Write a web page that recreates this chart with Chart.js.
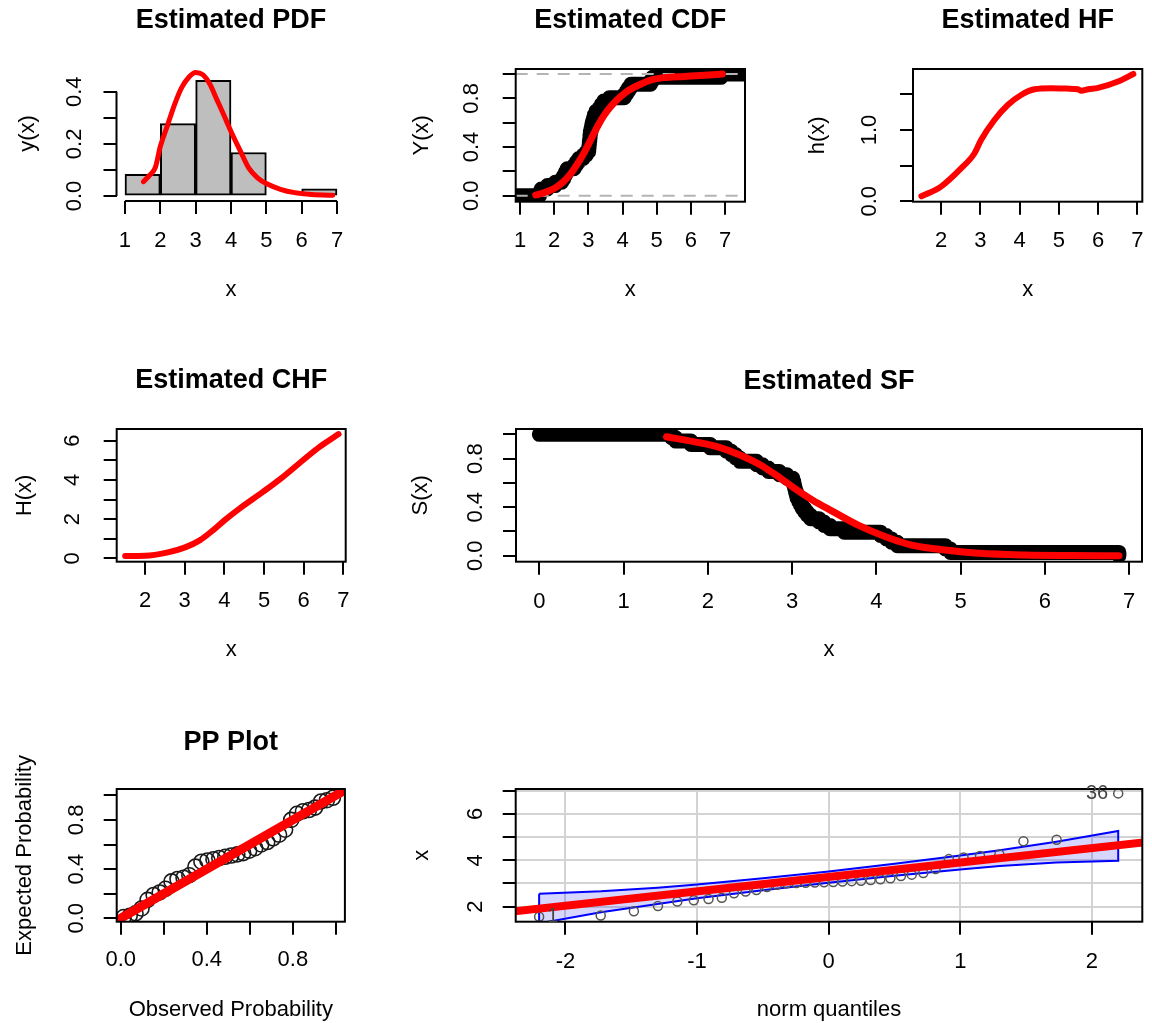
<!DOCTYPE html>
<html>
<head>
<meta charset="utf-8">
<script src="https://cdn.jsdelivr.net/npm/chart.js@4.4.1/dist/chart.umd.min.js"></script>
<style>
    html, body { margin: 0; padding: 0; background: #fff; overflow: hidden; width: 1152px; height: 1023px; }
    canvas { position: absolute; }
</style>
</head>
<body>
<script>
// sorted sample (read from the QQ / ECDF / SF panels)
const sampleX = [1.57, 1.62, 1.80, 2.03, 2.22, 2.28, 2.33, 2.38, 2.58, 2.65, 2.72, 2.85, 2.94,
    3.01, 3.02, 3.03, 3.04, 3.05, 3.06, 3.08, 3.10, 3.12, 3.15, 3.18, 3.22, 3.32, 3.38, 3.45, 3.62,
    4.05, 4.12, 4.18, 4.25, 4.82, 4.88, 6.88];

// histogram
const histBreaks = [1, 2, 3, 4, 5, 6, 7];
const histDensity = [0.083, 0.278, 0.444, 0.167, 0, 0.028];

// fitted curves (red)
const pdfX = [1.52, 1.7, 1.86, 2.0, 2.2, 2.4, 2.6, 2.8, 3.0, 3.2, 3.4, 3.6, 3.8, 4.0, 4.25, 4.5, 4.75, 5.0, 5.4, 5.8, 6.2, 6.6, 6.88];
const pdfY = [0.055, 0.08, 0.11, 0.19, 0.27, 0.35, 0.415, 0.455, 0.474, 0.466, 0.43, 0.37, 0.31, 0.248, 0.177, 0.108, 0.07, 0.048, 0.026, 0.013, 0.007, 0.004, 0.003];
const cdfX = [1.46, 1.7, 2.0, 2.25, 2.48, 2.7, 2.87, 3.0, 3.16, 3.3, 3.46, 3.65, 3.85, 4.1, 4.33, 4.6, 4.82, 5.2, 5.8, 6.4, 6.92];
const cdfY = [0.006, 0.025, 0.06, 0.11, 0.18, 0.27, 0.35, 0.42, 0.51, 0.585, 0.66, 0.73, 0.79, 0.85, 0.89, 0.925, 0.95, 0.97, 0.98, 0.99, 1.0];
const hfX = [1.5, 2.0, 2.51, 2.85, 3.02, 3.36, 3.7, 4.04, 4.38, 4.81, 5.2, 5.49, 5.57, 5.75, 6.0, 6.51, 6.9];
const hfY = [0.07, 0.205, 0.46, 0.67, 0.86, 1.14, 1.35, 1.49, 1.57, 1.585, 1.58, 1.57, 1.55, 1.57, 1.59, 1.68, 1.785];
const chfX = [1.5, 2.0, 2.55, 3.01, 3.39, 3.72, 4.01, 4.39, 4.98, 5.48, 5.99, 6.41, 6.88];
const chfY = [0.12, 0.13, 0.29, 0.56, 0.93, 1.44, 1.95, 2.55, 3.4, 4.16, 5.02, 5.7, 6.34];
const sfX = [1.51, 1.83, 2.1, 2.38, 2.62, 2.86, 3.0, 3.24, 3.47, 3.79, 4.11, 4.42, 4.82, 5.22, 5.77, 6.3, 6.88];
const sfY = [0.98, 0.94, 0.9, 0.83, 0.75, 0.64, 0.57, 0.46, 0.37, 0.25, 0.157, 0.088, 0.047, 0.02, 0.006, 0.002, 0.0];
const sfStartX = 0;

// PP plot
const ppObs = [0.014, 0.042, 0.069, 0.097, 0.125, 0.153, 0.181, 0.208, 0.236, 0.264, 0.292, 0.319,
    0.347, 0.375, 0.403, 0.431, 0.458, 0.486, 0.514, 0.542, 0.569, 0.597, 0.625, 0.653,
    0.681, 0.708, 0.736, 0.764, 0.792, 0.819, 0.847, 0.875, 0.903, 0.931, 0.958, 0.986];
const ppExp = [0.01, 0.02, 0.04, 0.08, 0.15, 0.19, 0.21, 0.24, 0.30, 0.32, 0.33, 0.35,
    0.42, 0.46, 0.47, 0.48, 0.49, 0.50, 0.51, 0.52, 0.53, 0.55, 0.57, 0.60,
    0.62, 0.65, 0.68, 0.72, 0.80, 0.85, 0.87, 0.88, 0.90, 0.95, 0.96, 0.98];

// QQ plot
const qqTheo = [-2.200, -1.732, -1.480, -1.297, -1.150, -1.025, -0.913, -0.812, -0.719, -0.631, -0.549, -0.469,
    -0.393, -0.319, -0.246, -0.175, -0.105, -0.035, 0.035, 0.105, 0.175, 0.246, 0.319, 0.393,
    0.469, 0.549, 0.631, 0.719, 0.812, 0.913, 1.025, 1.150, 1.297, 1.480, 1.732, 2.200];
const qqLineX = [-2.5, 2.5];
const qqLineY = [1.73, 4.83];
const envQ = [-2.2, -1.73, -1.3, -1.0, -0.5, 0, 0.5, 1.0, 1.3, 1.73, 2.2];
const envUpper = [2.56, 2.66, 2.82, 2.96, 3.23, 3.52, 3.85, 4.2, 4.43, 4.8, 5.26];
const envLower = [1.28, 1.76, 2.12, 2.36, 2.71, 3.03, 3.33, 3.6, 3.75, 3.9, 3.98];
const qqIds = ['1', '36'];

// ticks
const xTicks17 = [1, 2, 3, 4, 5, 6, 7];
const xTicks27 = [2, 3, 4, 5, 6, 7];
const xTicks07 = [0, 1, 2, 3, 4, 5, 6, 7];
const probTicks = [0, 0.2, 0.4, 0.6, 0.8, 1.0];
const probLabels = ['0.0', '', '0.4', '', '0.8', ''];

const FAMILY = "'Liberation Sans', Arial, sans-serif";
const TICK = 22, LAB = 22, MAIN = 27, TL = 13;
Chart.defaults.font.family = FAMILY;
Chart.defaults.color = '#000';

const zip = (xs, ys) => xs.map((x, i) => ({ x, y: ys[i] }));
const ids = { xAxisID: 'x', yAxisID: 'y', clip: 0 };

function redLine(xs, ys, w) {
    return { type: 'line', data: zip(xs, ys), borderColor: '#ff0000', borderWidth: w, pointRadius: 0,
        cubicInterpolationMode: 'monotone', borderCapStyle: 'round', borderJoinStyle: 'round', order: 0, ...ids };
}

const mctx = document.createElement('canvas').getContext('2d');
function widest(labels) {
    mctx.font = TICK + 'px ' + FAMILY;
    return Math.max(...labels.map(s => mctx.measureText(s).width));
}

// frame / R-style axis lines / point ids
const rStyle = {
    id: 'rstyle',
    afterDatasetsDraw(chart, args, o) {
        const { ctx, chartArea: a, scales: { x, y } } = chart;
        ctx.save();
        ctx.strokeStyle = '#000';
        ctx.lineWidth = 2;
        if (o.frame) {
            ctx.strokeRect(a.left, a.top, a.right - a.left, a.bottom - a.top);
        } else {
            const xt = x.ticks, yt = y.ticks;
            ctx.beginPath();
            ctx.moveTo(x.getPixelForValue(xt[0].value), a.bottom);
            ctx.lineTo(x.getPixelForValue(xt[xt.length - 1].value), a.bottom);
            ctx.moveTo(a.left, y.getPixelForValue(yt[0].value));
            ctx.lineTo(a.left, y.getPixelForValue(yt[yt.length - 1].value));
            ctx.stroke();
        }
        (o.notes || []).forEach(n => {
            ctx.font = '20px ' + FAMILY;
            ctx.fillStyle = '#444';
            ctx.textAlign = n.align;
            ctx.textBaseline = 'middle';
            ctx.fillText(n.text, x.getPixelForValue(n.x) + n.dx, y.getPixelForValue(n.y));
        });
        ctx.restore();
    }
};

function panel(p) {
    const box = p.box;
    const cl = Math.floor(p.yTitleX - 16);
    const ct = Math.floor((p.titleY || box.t) - 20);
    const cr = Math.ceil(box.r + 8);
    const cb = Math.ceil(p.xTitleY + 16);
    const cv = document.createElement('canvas');
    cv.width = cr - cl;
    cv.height = cb - ct;
    cv.style.left = cl + 'px';
    cv.style.top = ct + 'px';
    document.body.appendChild(cv);

    const noPad = s => { s.paddingLeft = s.paddingRight = s.paddingTop = s.paddingBottom = 0; };
    const gridOpt = { display: true, offset: false, drawOnChartArea: !!p.grid, color: '#d3d3d3', lineWidth: 2,
        tickColor: '#000', tickWidth: 2, tickLength: TL };

    new Chart(cv, {
        type: 'scatter',
        data: { datasets: p.datasets },
        plugins: [rStyle],
        options: {
            responsive: false,
            animation: false,
            events: [],
            layout: { padding: { left: 0, top: 0, bottom: 0, right: cr - box.r } },
            plugins: {
                legend: { display: false },
                tooltip: { enabled: false },
                rstyle: { frame: p.frame, notes: p.notes }
            },
            scales: {
                x: {
                    type: 'linear', position: 'bottom', offset: false, bounds: 'data',
                    min: p.xRange[0], max: p.xRange[1],
                    afterBuildTicks: s => { s.ticks = p.xTicks.map(v => ({ value: v })); },
                    afterFit: s => { s.height = cb - box.b; noPad(s); },
                    ticks: { font: { size: TICK }, autoSkip: false, maxRotation: 0,
                        padding: p.xTickY - box.b - TL - TICK * 0.6,
                        callback: (v, i) => p.xLabels[i] },
                    grid: gridOpt,
                    border: { display: false },
                    title: { display: true, text: p.xTitle, font: { size: LAB },
                        padding: { top: 0, bottom: cb - LAB * 0.6 - p.xTitleY } }
                },
                y: {
                    type: 'linear', position: 'left', offset: false, bounds: 'data',
                    min: p.yRange[0], max: p.yRange[1],
                    afterBuildTicks: s => { s.ticks = p.yTicks.map(v => ({ value: v })); },
                    afterFit: s => { s.width = box.l - cl; noPad(s); },
                    ticks: { font: { size: TICK }, autoSkip: false, minRotation: 90, maxRotation: 90,
                        crossAlign: 'center',
                        padding: box.l - TL - widest(p.yLabels) / 2 - p.yTickX,
                        callback: (v, i) => p.yLabels[i] },
                    grid: gridOpt,
                    border: { display: false },
                    title: { display: true, text: p.yTitle, font: { size: LAB },
                        padding: { top: p.yTitleX - cl - LAB * 0.6, bottom: 0 } }
                },
                ttl: {
                    type: 'linear', axis: 'x', position: 'top', display: true,
                    afterFit: s => { s.height = box.t - ct; noPad(s); },
                    ticks: { display: false },
                    grid: { display: false },
                    border: { display: false },
                    title: { display: !!p.title, text: p.title || '', font: { size: MAIN, weight: 'bold' },
                        padding: { top: (p.titleY || box.t) - ct - MAIN * 0.6, bottom: 0 } }
                }
            }
        }
    });
}

const n = sampleX.length;
const histMid = histBreaks.slice(0, -1).map((b, i) => (b + histBreaks[i + 1]) / 2);

// Estimated PDF
panel({
    box: { l: 116.5, r: 345.5, t: 66, b: 201 }, frame: false,
    xRange: [0.76, 7.24], yRange: [-0.019, 0.499],
    xTicks: xTicks17, xLabels: xTicks17.map(String),
    yTicks: [0, 0.1, 0.2, 0.3, 0.4], yLabels: ['0.0', '', '0.2', '', '0.4'],
    title: 'Estimated PDF', titleY: 21, xTitle: 'x', xTitleY: 290, yTitle: 'y(x)', yTitleX: 28,
    xTickY: 241, yTickX: 75,
    datasets: [
        redLine(pdfX, pdfY, 5),
        { type: 'bar', data: zip(histMid, histDensity), backgroundColor: '#bebebe', borderColor: '#000',
          borderWidth: 2, borderSkipped: false, barPercentage: 1, categoryPercentage: 1, order: 1, ...ids }
    ]
});

// Estimated CDF
const cdfXRange = [0.874, 7.585];
const ecdfPts = [{ x: cdfXRange[0] - 1, y: 0 }, ...sampleX.map((v, i) => ({ x: v, y: (i + 1) / n })), { x: cdfXRange[1] + 1, y: 1 }];
const cdfRefLevels = [0, 1];
panel({
    box: { l: 515.7, r: 745, t: 69, b: 201.7 }, frame: true,
    xRange: cdfXRange, yRange: [-0.049, 1.041],
    xTicks: xTicks17, xLabels: xTicks17.map(String),
    yTicks: probTicks, yLabels: probLabels,
    title: 'Estimated CDF', titleY: 21, xTitle: 'x', xTitleY: 290, yTitle: 'Y(x)', yTitleX: 422,
    xTickY: 241, yTickX: 472,
    datasets: [
        redLine(cdfX, cdfY, 7),
        ...cdfRefLevels.map(lv => ({ type: 'line', data: [{ x: cdfXRange[0], y: lv }, { x: cdfXRange[1], y: lv }],
            borderColor: '#b4b4b4', borderWidth: 2, borderDash: [12, 9], pointRadius: 0, order: 1, ...ids })),
        { type: 'line', data: ecdfPts, stepped: 'before', borderColor: '#000', borderWidth: 15, pointRadius: 0,
          borderCapStyle: 'round', borderJoinStyle: 'round', order: 2, ...ids }
    ]
});

// Estimated HF
panel({
    box: { l: 913, r: 1142.3, t: 69, b: 201.7 }, frame: true,
    xRange: [1.286, 7.128], yRange: [-0.006, 1.855],
    xTicks: xTicks27, xLabels: xTicks27.map(String),
    yTicks: [0, 0.5, 1.0, 1.5], yLabels: ['0.0', '', '1.0', ''],
    title: 'Estimated HF', titleY: 21, xTitle: 'x', xTitleY: 290, yTitle: 'h(x)', yTitleX: 818,
    xTickY: 241, yTickX: 870,
    datasets: [redLine(hfX, hfY, 6)]
});

// Estimated CHF
panel({
    box: { l: 116.7, r: 345.7, t: 429, b: 561.7 }, frame: true,
    xRange: [1.286, 7.06], yRange: [-0.173, 6.6],
    xTicks: xTicks27, xLabels: xTicks27.map(String),
    yTicks: [0, 1, 2, 3, 4, 5, 6], yLabels: ['0', '', '2', '', '4', '', '6'],
    title: 'Estimated CHF', titleY: 381, xTitle: 'x', xTitleY: 650, yTitle: 'H(x)', yTitleX: 25,
    xTickY: 601, yTickX: 73,
    datasets: [redLine(chfX, chfY, 6)]
});

// Estimated SF
const sfPts = [{ x: sfStartX, y: 1 }, ...sampleX.map((v, i) => ({ x: v, y: 1 - (i + 1) / n }))];
panel({
    box: { l: 516, r: 1142, t: 429, b: 561.7 }, frame: true,
    xRange: [-0.277, 7.154], yRange: [-0.049, 1.044],
    xTicks: xTicks07, xLabels: xTicks07.map(String),
    yTicks: probTicks, yLabels: probLabels,
    title: 'Estimated SF', titleY: 382, xTitle: 'x', xTitleY: 650, yTitle: 'S(x)', yTitleX: 421,
    xTickY: 601.7, yTickX: 476,
    datasets: [
        redLine(sfX, sfY, 7),
        { type: 'line', data: sfPts, stepped: 'before', borderColor: '#000', borderWidth: 15, pointRadius: 0,
          borderCapStyle: 'round', borderJoinStyle: 'round', order: 1, ...ids }
    ]
});

// PP Plot
const ppXRange = [-0.0185, 1.0417];
panel({
    box: { l: 116.7, r: 345.7, t: 789, b: 921.7 }, frame: true,
    xRange: ppXRange, yRange: [-0.0276, 1.0512],
    xTicks: probTicks, xLabels: probLabels,
    yTicks: probTicks, yLabels: probLabels,
    title: 'PP Plot', titleY: 743, xTitle: 'Observed Probability', xTitleY: 1010,
    yTitle: 'Expected Probability', yTitleX: 25,
    xTickY: 960, yTickX: 77,
    datasets: [
        redLine([ppXRange[0] - 0.1, ppXRange[1] + 0.1], [ppXRange[0] - 0.1, ppXRange[1] + 0.1], 9),
        { type: 'scatter', data: zip(ppObs, ppExp), pointStyle: 'circle', pointRadius: 7.5,
          borderColor: '#1a1a1a', borderWidth: 1.6, backgroundColor: 'rgba(0,0,0,0)', order: 1, ...ids }
    ]
});

// QQ plot
const envPoly = [...zip(envQ, envUpper), ...zip(envQ, envLower).reverse(), { x: envQ[0], y: envUpper[0] }];
panel({
    box: { l: 515.7, r: 1142.3, t: 789, b: 921.7 }, frame: true, grid: true,
    xRange: [-2.378, 2.383], yRange: [1.353, 7.07],
    xTicks: [-2, -1, 0, 1, 2], xLabels: ['-2', '-1', '0', '1', '2'],
    yTicks: [2, 3, 4, 5, 6, 7], yLabels: ['2', '', '4', '', '6', ''],
    title: null, titleY: null, xTitle: 'norm quantiles', xTitleY: 1010, yTitle: 'x', yTitleX: 422,
    xTickY: 962, yTickX: 476,
    notes: [
        { text: qqIds[0], x: qqTheo[0], y: sampleX[0], dx: 8, align: 'left' },
        { text: qqIds[1], x: qqTheo[n - 1], y: sampleX[n - 1], dx: -10, align: 'right' }
    ],
    datasets: [
        redLine(qqLineX, qqLineY, 8),
        { type: 'scatter', data: zip(qqTheo, sampleX), pointStyle: 'circle', pointRadius: 4.5,
          borderColor: '#555', borderWidth: 1.5, backgroundColor: 'rgba(0,0,0,0)', order: 1, ...ids },
        { type: 'line', data: envPoly, fill: 'shape', backgroundColor: 'rgba(0,0,255,0.16)',
          borderColor: '#0000ff', borderWidth: 2, pointRadius: 0, tension: 0, order: 2, ...ids }
    ]
});
</script>
</body>
</html>
